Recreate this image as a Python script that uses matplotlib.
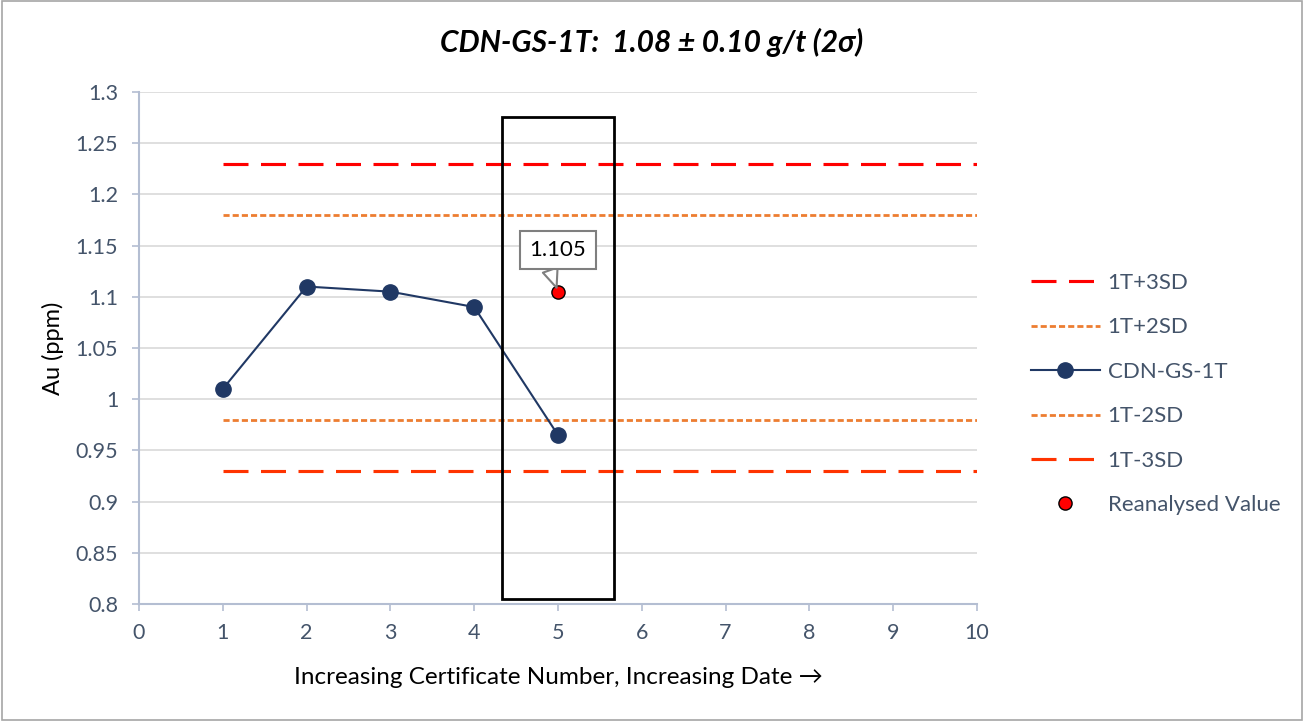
import matplotlib
matplotlib.use("Agg")
import matplotlib.pyplot as plt
from matplotlib.patches import Rectangle

plt.rcParams['font.family'] = ['Lato', 'DejaVu Sans']

# data
cert_no = [1, 2, 3, 4, 5]
au_ppm = [1.01, 1.11, 1.105, 1.09, 0.965]
limit_x = [1, 10]
plus3sd = 1.23
plus2sd = 1.18
minus2sd = 0.98
minus3sd = 0.93
reanalysed_x = [5]
reanalysed_y = [1.105]

tick_col = '#44546A'
spine_col = '#B4BED2'

fig = plt.figure(figsize=(13.04, 7.23), dpi=100)
ax = fig.add_axes([0.1066, 0.1646, 0.6426, 0.7082])

# chart border
fig.patches.append(Rectangle((0.0015, 0.004), 0.997, 0.995, transform=fig.transFigure,
                             fill=False, ec='#A6A6A6', lw=1.2))

ax.plot(limit_x, [plus3sd]*2, color='#FF0000', lw=2.25, dashes=(8, 4), label='1T+3SD')
ax.plot(limit_x, [plus2sd]*2, color='#ED7D31', lw=2.0, dashes=(2.2, 1.1), label='1T+2SD')
ax.plot(cert_no, au_ppm, color='#203864', lw=1.5, marker='o', ms=11, label='CDN-GS-1T', zorder=4)
ax.plot(limit_x, [minus2sd]*2, color='#ED7D31', lw=2.0, dashes=(2.2, 1.1), label='1T-2SD')
ax.plot(limit_x, [minus3sd]*2, color='#FF3300', lw=2.25, dashes=(8, 4), label='1T-3SD')
ax.plot(reanalysed_x, reanalysed_y, ls='none', marker='o', ms=9.5, mfc='#FF0000', mec='black',
        mew=1, label='Reanalysed Value', zorder=5)

# highlight box around certificate 5
ax.add_patch(Rectangle((4.33, 0.805), 1.34, 0.4706, fill=False, ec='black', lw=2, zorder=6))

ax.annotate('1.105', xy=(reanalysed_x[0], reanalysed_y[0]), xytext=(5.0, 1.1457),
            ha='center', va='center', fontsize=16, color='black',
            bbox=dict(boxstyle='square,pad=0.42', fc='white', ec='#7F7F7F', lw=1.5),
            arrowprops=dict(arrowstyle='wedge,tail_width=0.7', fc='white', ec='#7F7F7F', lw=1.5,
                            shrinkA=0, shrinkB=3, relpos=(0.3, 0.0)),
            zorder=7)

ax.set_xlim(0, 10)
ax.set_ylim(0.8, 1.3)
ax.set_xticks(range(0, 11))
ax.set_yticks([0.8, 0.85, 0.9, 0.95, 1.0, 1.05, 1.1, 1.15, 1.2, 1.25, 1.3])
ax.set_yticklabels(['0.8', '0.85', '0.9', '0.95', '1', '1.05', '1.1', '1.15', '1.2', '1.25', '1.3'])
ax.grid(axis='y', color='#D9D9D9', lw=1.2)
ax.set_axisbelow(True)
for s in ['top', 'right']:
    ax.spines[s].set_visible(False)
for s in ['left', 'bottom']:
    ax.spines[s].set_color(spine_col)
    ax.spines[s].set_linewidth(1.5)
ax.tick_params(axis='both', colors=spine_col, labelcolor=tick_col, labelsize=15.5, length=5, width=1.2)
ax.tick_params(axis='y', pad=10)
ax.tick_params(axis='x', pad=9)

ax.set_ylabel('Au (ppm)', fontsize=17, labelpad=8)
ax.set_xlabel('Increasing Certificate Number, Increasing Date →', fontsize=17.5, labelpad=17)
fig.text(0.5, 1 - 42/723, 'CDN-GS-1T:  1.08 ± 0.10 g/t (2σ)', fontsize=21.5, fontweight='bold',
         style='italic', ha='center', va='center')

leg = ax.legend(loc='upper left', bbox_to_anchor=(1031/1304, 1 - 273/723),
                bbox_transform=fig.transFigure, frameon=False, fontsize=16,
                handlelength=3.1, labelspacing=1.1, handletextpad=0.35,
                borderaxespad=0, borderpad=0)
for t in leg.get_texts():
    t.set_color(tick_col)

fig.savefig('out.png', dpi=100)
